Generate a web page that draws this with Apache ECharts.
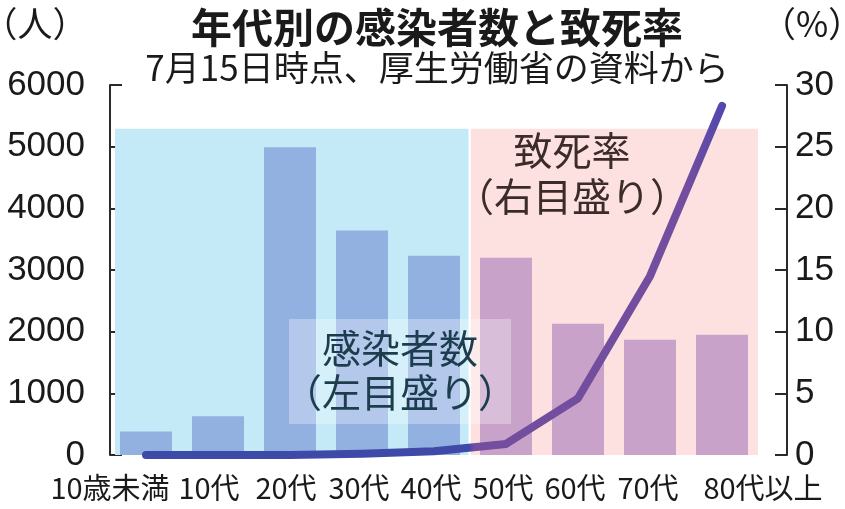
<!DOCTYPE html>
<html>
<head>
<meta charset="utf-8">
<script src="https://cdn.jsdelivr.net/npm/echarts@6/dist/echarts.min.js"></script>
<style>
html,body{margin:0;padding:0;background:#fff;}
#chart{width:845px;height:509px;}
</style>
</head>
<body>
<div id="chart"></div>
<script>
// ---- data ----
const categories = ['10歳未満', '10代', '20代', '30代', '40代', '50代', '60代', '70代', '80代以上'];
const cases = [380, 630, 4990, 3640, 3230, 3200, 2130, 1870, 1950];          // 感染者数（人）
const fatality = [0, 0, 0, 0.1, 0.3, 0.9, 4.6, 14.5, 28.3];                // 致死率（%）
const leftTicks = { min: 0, max: 6000, interval: 1000 };
const rightTicks = { min: 0, max: 30, interval: 5 };
const titleText = '年代別の感染者数と致死率';
const subtitleText = '7月15日時点、厚生労働省の資料から';
const leftUnit = '（人）';
const rightUnit = '（%）';
const casesNote = '感染者数\n（左目盛り）';
const rateNote = '致死率\n（右目盛り）';

// ---- chart ----
const chart = echarts.init(document.getElementById('chart'), null, { renderer: 'canvas' });
const jp = '"Noto Sans CJK JP", "Noto Sans", sans-serif';
const num = '"Liberation Sans Narrow", "Liberation Sans", Arial, sans-serif';

// per-label horizontal nudges (style only)
const labelShift = [-36, -9, -4, -3, -3, -3, -3, -2, 41];
const rich = {};
labelShift.forEach((s, i) => {
  rich['l' + i] = {
    fontFamily: jp, fontSize: 29, color: '#1a1a1a',
    padding: s < 0 ? [0, -2 * s, 0, 0] : [0, 0, 0, 2 * s]
  };
});

const lineGrad = new echarts.graphic.LinearGradient(0, 0, 1, 0, [
  { offset: 0, color: '#3d4aa8' },
  { offset: 0.56, color: '#3f4aa8' },
  { offset: 0.57, color: '#744e9e' },
  { offset: 0.93, color: '#744e9e' },
  { offset: 1, color: '#4f48ae' }
]);

const option = {
  backgroundColor: '#ffffff',
  animation: false,
  grid: { left: 110, right: 87, top: 85, bottom: 54, containLabel: false, outerBoundsMode: 'none' },
  xAxis: [
    {
      type: 'category',
      data: categories,
      axisLine: { show: false },
      axisTick: { show: false },
      axisLabel: {
        margin: 18,
        interval: 0,
        hideOverlap: false,
        formatter: (v, i) => '{l' + i + '|' + v + '}',
        rich: rich
      }
    },
    { type: 'value', min: 0, max: 9, show: false }
  ],
  yAxis: [
    {
      type: 'value',
      position: 'left',
      offset: 13,
      min: leftTicks.min, max: leftTicks.max, interval: leftTicks.interval,
      axisLine: { show: true, lineStyle: { color: '#2a2a2a', width: 2 } },
      axisTick: { show: true, inside: true, length: 12, lineStyle: { color: '#2a2a2a', width: 2 } },
      axisLabel: { margin: 12, color: '#1a1a1a', fontFamily: num, fontSize: 35, formatter: v => String(v) },
      splitLine: { show: false }
    },
    {
      type: 'value',
      position: 'right',
      offset: 29,
      min: rightTicks.min, max: rightTicks.max, interval: rightTicks.interval,
      axisLine: { show: true, lineStyle: { color: '#2a2a2a', width: 2 } },
      axisTick: { show: true, inside: true, length: 12, lineStyle: { color: '#2a2a2a', width: 2 } },
      axisLabel: { margin: 8, color: '#1a1a1a', fontFamily: num, fontSize: 35, formatter: v => String(v) },
      splitLine: { show: false }
    }
  ],
  series: [
    {
      name: 'panels',
      type: 'line',
      xAxisIndex: 1,
      yAxisIndex: 0,
      data: [],
      z: 1,
      silent: true,
      markArea: {
        silent: true,
        data: [
          [{ coord: [0.07, 0], itemStyle: { color: '#c4eaf8' } }, { coord: [4.98, 5290] }],
          [{ coord: [5.01, 0], itemStyle: { color: '#fde1e1' } }, { coord: [9.1, 5290] }]
        ]
      }
    },
    {
      name: '感染者数',
      type: 'bar',
      xAxisIndex: 0,
      yAxisIndex: 0,
      data: cases,
      barWidth: 52,
      z: 2,
      itemStyle: { color: p => (p.dataIndex < 5 ? '#92b1e1' : '#c9a2c9') }
    },
    {
      name: '致死率',
      type: 'line',
      xAxisIndex: 0,
      yAxisIndex: 1,
      data: fatality,
      symbol: 'none',
      z: 4,
      lineStyle: { width: 8, color: lineGrad, cap: 'round', join: 'round' }
    }
  ],
  graphic: [
    {
      type: 'text', z: 10, position: [437, 7],
      style: { text: titleText, font: 'bold 41px ' + jp, fill: '#1a1a1a', textAlign: 'center' }
    },
    {
      type: 'text', z: 10, position: [437, 50],
      style: { text: subtitleText, font: '35px ' + jp, fill: '#1a1a1a', textAlign: 'center' }
    },
    {
      type: 'text', z: 10, position: [35, 6],
      style: { text: leftUnit, font: '35px ' + jp, fill: '#1a1a1a', textAlign: 'center' }
    },
    {
      type: 'text', z: 10, position: [812, 6],
      style: { text: rightUnit, font: '35px ' + jp, fill: '#1a1a1a', textAlign: 'center' }
    },
    {
      type: 'rect', z: 5, shape: { x: 289, y: 319, width: 222, height: 105 },
      style: { fill: 'rgba(255,255,255,0.3)' }
    },
    {
      type: 'text', z: 10, position: [400, 326],
      style: { text: casesNote, font: '39px ' + jp, lineHeight: 44, fill: '#1c3d4d', textAlign: 'center' }
    },
    {
      type: 'text', z: 10, position: [572, 127],
      style: { text: rateNote, font: '39px ' + jp, lineHeight: 46, fill: '#3b2b2b', textAlign: 'center' }
    }
  ]
};
chart.setOption(option);
</script>
</body>
</html>
